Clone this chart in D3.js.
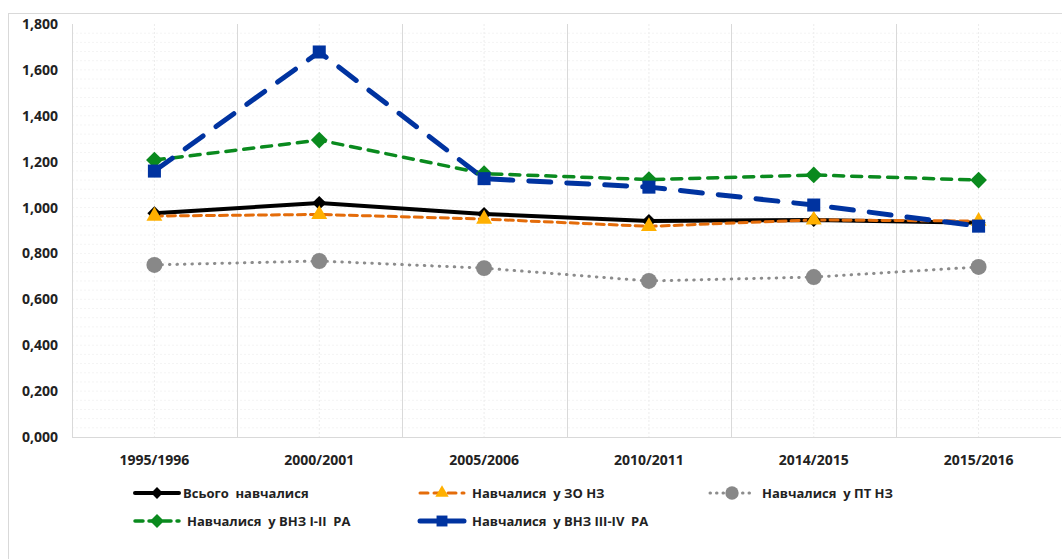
<!DOCTYPE html>
<html>
<head>
<meta charset="utf-8">
<script src="https://d3js.org/d3.v7.min.js"></script>
<style>
  body { margin: 0; background: #fff; }
  svg { font-family: "Open Sans", "Liberation Sans", sans-serif; }
  text { white-space: pre; }
</style>
</head>
<body>
<svg width="1062" height="559"></svg>
<script>
var years = ["1995/1996", "2000/2001", "2005/2006", "2010/2011", "2014/2015", "2015/2016"];
var yTicks = [0, 200, 400, 600, 800, 1000, 1200, 1400, 1600, 1800];

var total = [975, 1020, 972, 941, 946, 934];
var zoNz = [963, 970, 950, 918, 946, 941];
var ptNz = [750, 767, 736, 680, 697, 741];
var vnz12 = [1207, 1294, 1148, 1122, 1142, 1120];
var vnz34 = [1159, 1678, 1126, 1089, 1011, 919];

var series = [
  { name: "Всього  навчалися", values: total, color: "#000", width: 4, dash: null, marker: "diamond", mfill: "#000", msize: 100 },
  { name: "Навчалися  у ЗО НЗ", values: zoNz, color: "#e46c0a", width: 3, dash: "8,5", marker: "triangle", mfill: "#ffb000", msize: 110 },
  { name: "Навчалися  у ПТ НЗ", values: ptNz, color: "#8c8c8c", width: 3, dash: "0.5,7", marker: "circle", mfill: "#888", msize: 200 },
  { name: "Навчалися  у ВНЗ І-ІІ  РА", values: vnz12, color: "#0a8a1e", width: 3.5, dash: "10,8", marker: "diamond", mfill: "#0a8a1e", msize: 140 },
  { name: "Навчалися  у ВНЗ ІІІ-ІV  РА", values: vnz34, color: "#0033a0", width: 5, dash: "22,16", marker: "square", mfill: "#0033a0", msize: 170 }
];

var svg = d3.select("svg");
var pLeft = 72, pRight = 1061, pTop = 24, pBottom = 437;

svg.append("rect")
  .attr("x", 8.5).attr("y", 13.5).attr("width", 1060).attr("height", 550)
  .attr("fill", "none").attr("stroke", "#d9d9d9");

var x = d3.scaleBand().domain(years).range([pLeft, pRight]);
var y = d3.scaleLinear().domain([0, 1800]).range([pBottom, pTop]);
var fmt = function(d) { return d3.format(",.3f")(d / 1000).replace(".", ","); };

// minor horizontal grid
svg.append("g").selectAll("line")
  .data(d3.range(40, 1800, 40))
  .join("line")
  .attr("x1", pLeft).attr("x2", pRight)
  .attr("y1", d => y(d)).attr("y2", d => y(d))
  .attr("stroke", "#f4f4f4").attr("stroke-dasharray", "2,2");

// vertical dotted at category centers
svg.append("g").selectAll("line")
  .data(years)
  .join("line")
  .attr("x1", d => x(d) + x.bandwidth() / 2).attr("x2", d => x(d) + x.bandwidth() / 2)
  .attr("y1", pTop).attr("y2", pBottom)
  .attr("stroke", "#ececec").attr("stroke-dasharray", "2,2");

// category boundaries
svg.append("g").selectAll("line")
  .data(years.slice(1))
  .join("line")
  .attr("x1", d => Math.round(x(d)) + 0.5).attr("x2", d => Math.round(x(d)) + 0.5)
  .attr("y1", pTop).attr("y2", pBottom)
  .attr("stroke", "#d9d9d9");

svg.append("line").attr("x1", pLeft + 0.5).attr("x2", pLeft + 0.5).attr("y1", pTop).attr("y2", pBottom).attr("stroke", "#d9d9d9");
svg.append("line").attr("x1", pLeft).attr("x2", pRight).attr("y1", pBottom + 0.5).attr("y2", pBottom + 0.5).attr("stroke", "#d9d9d9");

// y axis labels
var yAxis = svg.append("g")
  .attr("transform", "translate(" + (pLeft - 14) + ",0)")
  .call(d3.axisLeft(y).tickValues(yTicks).tickFormat(fmt).tickSize(0).tickPadding(0));
yAxis.select(".domain").remove();
yAxis.selectAll("text").attr("font-size", 14).attr("font-weight", "bold").attr("fill", "#222")
  .attr("font-family", "Open Sans, sans-serif");

// x axis labels
var xAxis = svg.append("g")
  .attr("transform", "translate(0," + (pBottom + 18) + ")")
  .call(d3.axisBottom(x).tickSize(0).tickPadding(0));
xAxis.select(".domain").remove();
xAxis.selectAll("text").attr("font-size", 14).attr("font-weight", "bold").attr("fill", "#222")
  .attr("font-family", "Open Sans, sans-serif");

var symbolOf = { diamond: d3.symbolSquare, triangle: d3.symbolTriangle, circle: d3.symbolCircle, square: d3.symbolSquare };
var rot = m => m === "diamond" ? " rotate(45)" : "";
var cx = d => x(d) + x.bandwidth() / 2;

var line = d3.line().x((d, i) => cx(years[i])).y(d => y(d));

series.forEach(function(s) {
  svg.append("path")
    .attr("d", line(s.values))
    .attr("fill", "none")
    .attr("stroke", s.color)
    .attr("stroke-width", s.width)
    .attr("stroke-dasharray", s.dash)
    .attr("stroke-linecap", "round")
    .attr("stroke-linejoin", "round");
});

series.forEach(function(s) {
  svg.append("g").selectAll("path")
    .data(s.values)
    .join("path")
    .attr("transform", (d, i) => "translate(" + cx(years[i]) + "," + y(d) + ")" + rot(s.marker))
    .attr("d", d3.symbol().type(symbolOf[s.marker]).size(s.msize))
    .attr("fill", s.mfill);
});

// legend
var legendPos = [[135, 493], [420, 493], [710, 493], [135, 521], [420, 521]];
series.forEach(function(s, i) {
  var g = svg.append("g").attr("transform", "translate(" + legendPos[i][0] + "," + legendPos[i][1] + ")");
  g.append("line").attr("x1", 0).attr("x2", 44)
    .attr("stroke", s.color).attr("stroke-width", s.width)
    .attr("stroke-dasharray", s.dash ? (s.marker === "circle" ? "0.5,6" : (s.marker === "square" ? null : "8,6")) : null)
    .attr("stroke-linecap", "round");
  g.append("path")
    .attr("transform", "translate(22,0)" + rot(s.marker))
    .attr("d", d3.symbol().type(symbolOf[s.marker]).size(s.msize * 0.7))
    .attr("fill", s.mfill);
  g.append("text").attr("x", i === 0 ? 48 : 52).attr("y", 0).attr("dy", "0.35em")
    .attr("font-size", 13).attr("font-weight", "bold").attr("fill", "#222")
    .text(s.name);
});
</script>
</body>
</html>
